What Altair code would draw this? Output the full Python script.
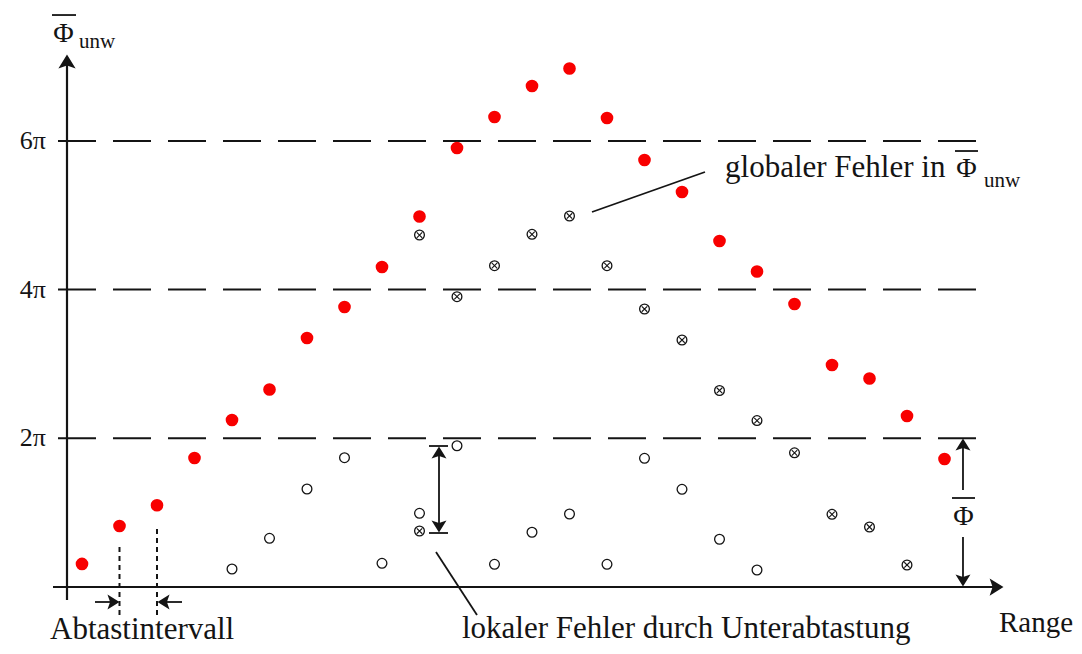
import altair as alt
import pandas as pd

# ---------------- values ----------------
# x: sample number along "Range", y: phase in units of pi
sample_no = list(range(24))
phase_true = [0.31, 0.82, 1.10, 1.735, 2.246, 2.656, 3.349, 3.766, 4.304, 4.983,
              5.905, 6.321, 6.738, 6.974, 6.308, 5.743, 5.313, 4.654, 4.243, 3.806,
              2.986, 2.804, 2.30, 1.722]
wrapped_no = list(range(4, 19))
phase_wrapped = [0.242, 0.655, 1.318, 1.739, 0.319, 0.991, 1.90, 0.305, 0.736, 0.982,
                 0.305, 1.731, 1.314, 0.642, 0.229]
unwrapped_no = [9, 9, 10, 11, 12, 13, 14, 15, 16, 17, 18, 19, 20, 21, 22]
phase_unwrapped = [4.734, 0.753, 3.905, 4.322, 4.744, 4.99, 4.322, 3.739, 3.322, 2.643,
                   2.239, 1.805, 0.978, 0.807, 0.296]
grid_levels = [2, 4, 6]
tick_labels = ["2π", "4π", "6π"]

# annotation geometry in data units (sample number, phase/pi)
axis_x0, axis_x1 = -0.7733, 24.373
axis_y0, axis_y1 = -0.1748, 7.061
yaxis_at = -0.4
grid_x0, grid_x1 = -0.64, 23.893

X_DOMAIN = [-1.97333, 26.45333]
Y_DOMAIN = [-0.79354, 7.78749]
W, H = 1066, 638
FONT = "Liberation Serif"
INK = "#141414"
ARROW = "M0,-1L1.15,0.85L0,0.45L-1.15,0.85Z"
XMARK = "M-1,-1L1,1M-1,1L1,-1"

xs = alt.Scale(domain=X_DOMAIN, nice=False, zero=False)
ys = alt.Scale(domain=Y_DOMAIN, nice=False, zero=False)


def X(f="x"):
    return alt.X(f + ":Q", scale=xs, axis=None)


def Y(f="y"):
    return alt.Y(f + ":Q", scale=ys, axis=None)


def seg_chart(rows, **mark):
    df = pd.DataFrame(rows, columns=["x", "y", "x2", "y2"])
    return alt.Chart(df).mark_rule(**mark).encode(
        x=X(), y=Y(), x2=alt.X2("x2:Q"), y2=alt.Y2("y2:Q"))


# grid (dashed) lines
grid = seg_chart([[grid_x0, g, grid_x1, g] for g in grid_levels],
                 color=INK, strokeWidth=2, strokeDash=[38, 17])

# axes
axes = seg_chart([[yaxis_at, axis_y0, yaxis_at, axis_y1],
                  [axis_x0, 0, axis_x1, 0]], color=INK, strokeWidth=2.2)

# thin solid annotation lines
solid = seg_chart([
    [9.52, 1.802, 9.52, 0.8204],
    [9.253, 1.8964, 9.76, 1.8964],
    [9.253, 0.7263, 9.76, 0.7263],
    [23.493, 1.91, 23.493, 1.3046],
    [23.493, 0.6725, 23.493, 0.094],
    [0.3467, -0.2017, 0.83, -0.2017],
    [2.6667, -0.2017, 2.18, -0.2017],
    [13.6, 5.0437, 16.613, 5.5817],
    [9.44, 0.4707, 10.533, -0.3766],
    [-0.8, 7.693, -0.16, 7.693],
    [23.28, 5.864, 23.893, 5.864],
    [23.2, 1.197, 23.813, 1.197],
], color=INK, strokeWidth=1.8)

# dotted sampling markers
dotted = seg_chart([[1, 0.538, 1, -0.4035], [2, 0.780, 2, -0.4035]],
                   color=INK, strokeWidth=2, strokeDash=[5, 4])

# arrow heads
arrow_df = pd.DataFrame({
    "x": [yaxis_at, axis_x1, 9.52, 9.52, 23.493, 23.493, 0.8267, 2.1867],
    "y": [axis_y1, 0, 1.802, 0.8204, 1.91, 0.094, -0.2017, -0.2017],
    "a": [0, 90, 0, 180, 0, 180, 90, 270],
    "s": [225, 225, 169, 169, 169, 169, 169, 169],
})
arrows = alt.Chart(arrow_df).mark_point(shape=ARROW, filled=True, color=INK,
                                        opacity=1, strokeWidth=0).encode(
    x=X(), y=Y(), angle=alt.Angle("a:Q", scale=None),
    size=alt.Size("s:Q", scale=None))

# data points
red_df = pd.DataFrame({"x": sample_no, "y": phase_true})
wrap_df = pd.DataFrame({"x": wrapped_no, "y": phase_wrapped})
unw_df = pd.DataFrame({"x": unwrapped_no, "y": phase_unwrapped})

open_c = alt.Chart(wrap_df).mark_point(shape="circle", filled=False, color=INK,
                                       strokeWidth=1.3, size=95, opacity=1).encode(x=X(), y=Y())
unw_c = alt.Chart(unw_df).mark_point(shape="circle", filled=False, color=INK,
                                     strokeWidth=1.3, size=95, opacity=1).encode(x=X(), y=Y())
unw_x = alt.Chart(unw_df).mark_point(shape=XMARK, filled=False, color=INK,
                                     strokeWidth=1.1, size=30, opacity=1).encode(x=X(), y=Y())
red = alt.Chart(red_df).mark_point(shape="circle", filled=True, color="#f80000",
                                   size=160, opacity=1, strokeWidth=0).encode(x=X(), y=Y())

# texts
left_txt = pd.DataFrame({
    "x": [-0.08, 17.147, 24.053, -0.8533, 10.133, 24.453],
    "y": [7.2495, 5.514, 5.384, -0.6994, -0.69, -0.605],
    "t": ["unw", "globaler Fehler in", "unw", "Abtastintervall",
          "lokaler Fehler durch Unterabtastung", "Range"],
    "fs": [21, 31, 21, 31, 31, 29],
})
center_txt = pd.DataFrame({
    "x": [-0.493, 23.587, 23.507],
    "y": [7.330, 5.514, 0.834],
    "t": ["Φ", "Φ", "Φ"],
    "fs": [28, 28, 28],
})
tick_df = pd.DataFrame({"x": [-0.96] * 3, "y": grid_levels, "t": tick_labels})

t_left = alt.Chart(left_txt).mark_text(align="left", baseline="alphabetic", font=FONT,
                                       color=INK).encode(
    x=X(), y=Y(), text="t:N", size=alt.Size("fs:Q", scale=None))
t_center = alt.Chart(center_txt).mark_text(align="center", baseline="alphabetic", font=FONT,
                                           color=INK).encode(
    x=X(), y=Y(), text="t:N", size=alt.Size("fs:Q", scale=None))
t_ticks = alt.Chart(tick_df).mark_text(align="right", baseline="middle", font=FONT,
                                       color=INK, fontSize=26).encode(
    x=X(), y=Y(), text="t:N")

chart = alt.layer(grid, axes, solid, dotted, arrows, open_c, unw_c, unw_x, red,
                  t_left, t_center, t_ticks).properties(
    width=W, height=H, padding=0,
    autosize=alt.AutoSizeParams(type="none"),
    background="white",
).configure_view(stroke=None)

chart.save("out.html", embed_options={"renderer": "svg", "actions": False})
